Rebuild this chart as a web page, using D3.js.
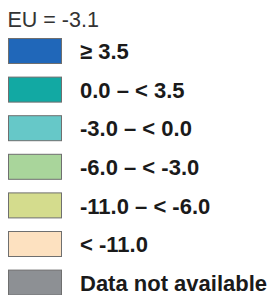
<!DOCTYPE html>
<html>
<head>
<meta charset="utf-8">
<script src="https://cdn.jsdelivr.net/npm/d3@7"></script>
<style>
  body { margin: 0; background: #fff; }
</style>
</head>
<body>
<script>
const title = "EU = -3.1";
const classes = ["≥ 3.5", "0.0 – < 3.5", "-3.0 – < 0.0", "-6.0 – < -3.0", "-11.0 – < -6.0", "< -11.0", "Data not available"];
const colors = ["#2067b9", "#12a9a3", "#66c8c8", "#a9d59b", "#d4dc8d", "#fde1c0", "#8d9094"];

const width = 274, height = 295;
const step = 38.6, swatchH = 25;

const svg = d3.select("body").append("svg")
    .attr("width", width)
    .attr("height", height);

svg.append("text")
    .attr("x", 7.5)
    .attr("y", 27)
    .attr("font-family", "Liberation Sans, Arial, sans-serif")
    .attr("font-size", 21.5)
    .attr("fill", "#333")
    .text(title);

const y = d3.scaleBand()
    .domain(classes)
    .range([38, 38 + step * (classes.length - 1) + swatchH])
    .paddingInner(1 - swatchH / step)
    .paddingOuter(0);

const color = d3.scaleOrdinal().domain(classes).range(colors);

const row = svg.append("g")
  .selectAll("g")
  .data(classes)
  .join("g")
    .attr("transform", d => `translate(0,${y(d)})`);

row.append("rect")
    .attr("x", 8.5)
    .attr("y", 0.5)
    .attr("width", 53)
    .attr("height", y.bandwidth())
    .attr("fill", d => color(d))
    .attr("stroke", "#6f6f6f")
    .attr("stroke-width", 1);

row.append("text")
    .attr("x", 80)
    .attr("y", y.bandwidth() / 2 + 1)
    .attr("dy", "0.35em")
    .attr("font-family", "Liberation Sans, Arial, sans-serif")
    .attr("font-weight", "bold")
    .attr("font-size", 22)
    .attr("fill", "#1a1a1a")
    .text(d => d);
</script>
</body>
</html>
